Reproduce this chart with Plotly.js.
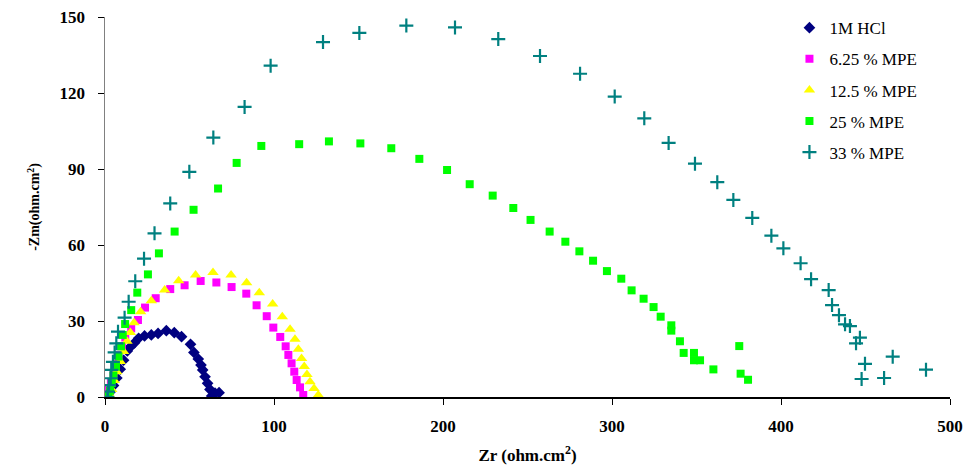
<!DOCTYPE html>
<html>
<head>
<meta charset="utf-8">
<script src="https://cdn.plot.ly/plotly-3.0.1.min.js"></script>
<style>html,body{margin:0;padding:0;background:#fff;}#chart{width:967px;height:467px;}</style>
</head>
<body>
<div id="chart"></div>
<script>
// Series names
const seriesNames = ["1M HCl", "6.25 % MPE", "12.5 % MPE", "25 % MPE", "33 % MPE"];

// 1M HCl
const hclX = [1, 3, 5, 7, 9, 11, 13.2, 15.2, 17.5, 19.9, 23.4, 27.4, 31.4, 36.3, 41.0, 45.3, 50.6, 52.6, 55.2, 56.8, 57.8, 59.2, 60.7, 62.1, 63.1, 65.1, 67.5];
const hclY = [0.5, 2, 4.5, 7.5, 11, 14.5, 18.2, 19.9, 21.4, 23.2, 24.1, 24.5, 25.1, 26.2, 25.4, 23.8, 20.8, 17.6, 15.0, 12.6, 10.7, 8.0, 5.4, 3.0, 0.4, 1.5, 1.7];

// 6.25 % MPE
const mpe625X = [1, 2, 3.5, 5, 6.5, 8, 10, 12, 15.5, 19.5, 23.7, 30, 38.6, 47.1, 56.6, 65.9, 74.9, 83.6, 89.7, 95.7, 99.6, 103.7, 106.9, 108.5, 110.4, 112.0, 113.4, 115.4, 117.3];
const mpe625Y = [0.5, 3, 6, 9.5, 13, 16.5, 20, 23.5, 27.1, 30.4, 35.3, 39, 42.6, 44.1, 45.8, 45.2, 43.4, 40.8, 36.2, 31.9, 27.4, 23.7, 20.0, 16.6, 13.3, 10.0, 6.7, 3.8, 0.8];

// 12.5 % MPE
const mpe125X = [3, 4, 5.5, 7, 9, 11, 13, 15, 17.2, 21.1, 27.4, 35.3, 43.6, 53.6, 63.9, 74.6, 83.8, 91.3, 99.2, 104.9, 109.5, 112.4, 114.4, 116.3, 117.9, 119.5, 121.3, 123.7, 126.2];
const mpe125Y = [0.5, 3, 6.5, 10, 14, 18, 22, 25.5, 29.3, 33.7, 38.0, 42.2, 45.9, 48.2, 49.1, 48.2, 45.1, 41.2, 36.7, 31.7, 26.7, 22.8, 18.8, 15.2, 12.0, 8.9, 6.0, 3.4, 0.8];

// 25 % MPE
const mpe25X = [2, 3, 4, 5, 6.5, 8, 9.5, 10.5, 11.9, 15.5, 19.1, 25.4, 31.9, 41.2, 52.4, 66.9, 77.9, 92.5, 114.9, 132.5, 151.1, 169.4, 186.0, 202.4, 215.8, 229.4, 241.6, 251.8, 263.1, 272.4, 280.7, 288.8, 297.0, 305.5, 311.6, 318.7, 324.6, 328.8, 335.1, 335.1, 340.2, 342.4, 348.5, 348.5, 352.1, 360, 375.3, 376.1, 380.5];
const mpe25Y = [0.5, 2.5, 5.5, 8.5, 12, 16, 20, 24.5, 28.8, 34.3, 41.2, 48.4, 56.7, 65.3, 73.9, 82.3, 92.4, 99.1, 99.8, 100.9, 100.1, 98.2, 94.0, 89.6, 84.0, 79.5, 74.6, 69.9, 65.3, 61.3, 57.5, 53.8, 49.7, 46.7, 42.1, 38.8, 35.5, 31.7, 28.3, 26.2, 22.0, 17.4, 17.4, 14.5, 14.5, 10.9, 20.1, 9.2, 6.8];

// 33 % MPE
const mpe33X = [1.4, 1.8, 2.4, 3.4, 3.7, 4.7, 5.7, 6.7, 7.7, 11.6, 14.0, 17.9, 23.1, 29.3, 38.6, 49.9, 64.1, 82.6, 98.0, 129, 150.5, 178.3, 207.1, 232.7, 257.4, 281.1, 301.6, 319.1, 333.5, 349.1, 362.3, 371.8, 383.0, 394.3, 401.4, 411.6, 417.8, 428.2, 430.2, 434.3, 437.9, 440.8, 446.7, 444.4, 466.1, 449.7, 485.8, 447.7, 461.0];
const mpe33Y = [0.1, 2.1, 4.7, 7.4, 10.7, 13.9, 17.6, 21.2, 25.8, 31.3, 37.6, 45.7, 54.6, 64.6, 76.4, 88.9, 102.4, 114.5, 130.8, 140.1, 143.7, 146.6, 145.9, 141.3, 134.6, 127.6, 118.6, 110.0, 100.3, 92.1, 84.8, 77.8, 70.7, 63.7, 58.7, 52.8, 46.5, 42.2, 36.3, 32.3, 28.7, 28.0, 23.4, 21.2, 15.9, 13.1, 10.8, 7.1, 7.5];

// Axis ticks
const xTicks = [0, 100, 200, 300, 400, 500];
const yTicks = [0, 30, 60, 90, 120, 150];

const serif = "Liberation Serif, Times New Roman, serif";

const traces = [
  {x: hclX, y: hclY, name: seriesNames[0], legendgroup: "a", type: "scatter", mode: "markers",
   marker: {symbol: "diamond", size: 9, color: "#000080"}},
  {x: mpe625X, y: mpe625Y, name: seriesNames[1], legendgroup: "b", type: "scatter", mode: "markers",
   marker: {symbol: "square", size: 8, color: "#FF00FF"}},
  {x: mpe125X, y: mpe125Y, name: seriesNames[2], legendgroup: "c", type: "scatter", mode: "markers",
   marker: {symbol: "triangle-up", size: 10, color: "#FFFF00"}},
  {x: mpe25X, y: mpe25Y, name: seriesNames[3], legendgroup: "d", type: "scatter", mode: "markers",
   marker: {symbol: "square", size: 8, color: "#00FF00"}},
  {x: mpe33X, y: mpe33Y, name: seriesNames[4], legendgroup: "e", type: "scatter", mode: "markers",
   marker: {symbol: "cross-thin-open", size: 10, color: "#008080", line: {color: "#008080", width: 2.2}}}
];

const layout = {
  width: 967, height: 467,
  margin: {l: 105, r: 17, t: 17, b: 70, autoexpand: false},
  paper_bgcolor: "#ffffff", plot_bgcolor: "#ffffff",
  showlegend: true,
  legend: {x: 0.81, y: 1.018, xanchor: "left", yanchor: "top", bgcolor: "rgba(0,0,0,0)",
           font: {family: serif, size: 17, color: "#000"}, tracegroupgap: 6, traceorder: "grouped"},
  xaxis: {range: [0, 500], tickvals: xTicks, ticktext: xTicks.map(v => "<b>" + v + "</b>"), showgrid: false, zeroline: false,
          showline: true, linecolor: "#000", linewidth: 1.5, ticks: "outside", ticklen: 6, tickcolor: "#000",
          tickfont: {family: serif, size: 17, color: "#000"}, ticklabelstandoff: 7,
          title: {text: "<b>Zr (ohm.cm<sup>2</sup>)</b>", font: {family: serif, size: 17, color: "#000"}, standoff: 14}},
  yaxis: {range: [0, 150], tickvals: yTicks, ticktext: yTicks.map(v => "<b>" + v + "</b>"), showgrid: false, zeroline: false,
          showline: true, linecolor: "#808080", linewidth: 1.5, ticks: "outside", ticklen: 6, tickcolor: "#000",
          tickfont: {family: serif, size: 17, color: "#000"}, ticklabelstandoff: 9,
          title: {text: "<b>-Zm(ohm.cm<sup>2</sup>)</b>", font: {family: serif, size: 14, color: "#000"}, standoff: 16}}
};

Plotly.newPlot("chart", traces, layout, {displayModeBar: false, staticPlot: true});
</script>
</body>
</html>
